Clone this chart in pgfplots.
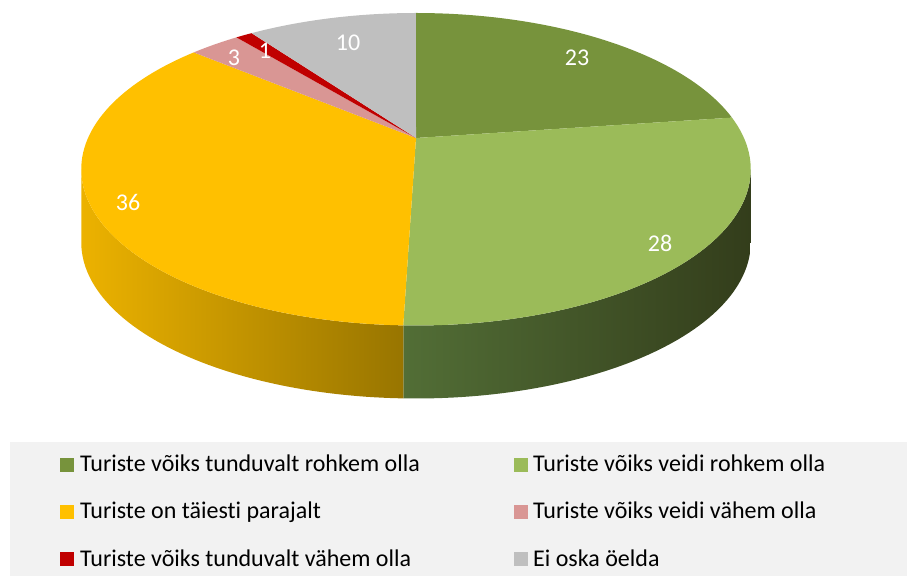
\documentclass[border=0pt]{standalone}
\usepackage{pgfplots}
\pgfplotsset{compat=1.18}
\usepackage{pgfplotstable}
\usepackage{fontspec}
\setmainfont{Carlito}[Ligatures=NoCommon]
\definecolor{cA}{HTML}{77933C}
\definecolor{cB}{HTML}{9BBB59}
\definecolor{cC}{HTML}{FFC000}
\definecolor{cD}{HTML}{D99694}
\definecolor{cE}{HTML}{C00000}
\definecolor{cF}{HTML}{BFBFBF}
\definecolor{legbg}{HTML}{F2F2F2}
\definecolor{gsL}{HTML}{526E36}
\definecolor{gsR}{HTML}{333D1B}
\definecolor{ysL}{HTML}{ECB200}
\definecolor{ysR}{HTML}{987500}
\tikzset{declare function={px(\t)=416+328*cos(\t)/(1+0.2*sin(\t)); py(\t)=438+150*sin(\t)/(1+0.2*sin(\t));}}
\pgfplotstableread{
idx value
0 23
1 28
2 36
3 3
4 1
5 10
}\piedata
\newcommand\labfont{\fontsize{24bp}{28bp}\selectfont}
\begin{document}
\begin{tikzpicture}
\pgfplotstablegetelem{0}{value}\of\piedata \let\vA\pgfplotsretval
\pgfplotstablegetelem{1}{value}\of\piedata \let\vB\pgfplotsretval
\pgfplotstablegetelem{2}{value}\of\piedata \let\vC\pgfplotsretval
\pgfplotstablegetelem{3}{value}\of\piedata \let\vD\pgfplotsretval
\pgfplotstablegetelem{4}{value}\of\piedata \let\vE\pgfplotsretval
\pgfplotstablegetelem{5}{value}\of\piedata \let\vF\pgfplotsretval
\pgfmathsetmacro\total{\vA+\vB+\vC+\vD+\vE+\vF}
\pgfmathsetmacro\aZ{90}
\pgfmathsetmacro\aA{\aZ-\vA/\total*360}
\pgfmathsetmacro\aB{\aA-\vB/\total*360}
\pgfmathsetmacro\aC{\aB-\vC/\total*360}
\pgfmathsetmacro\aD{\aC-\vD/\total*360}
\pgfmathsetmacro\aE{\aD-\vE/\total*360}
\pgfmathsetmacro\aF{\aE-\vF/\total*360}
\pgfmathsetmacro\sR{-asin(0.2)}
\pgfmathsetmacro\sL{-180-\sR}
\begin{axis}[width=907bp, height=576bp, scale only axis, xmin=0, xmax=907, ymin=0, ymax=576, hide axis, clip=false]
\path (axis cs:0,0) rectangle (axis cs:907,576);
% sides
\shade[left color=gsL, right color=gsR] plot[domain=\sR:\aB, samples=60, variable=\t] (axis cs:{px(\t)},{py(\t)}) -- plot[domain=\aB:\sR, samples=60, variable=\t] (axis cs:{px(\t)},{py(\t)-73}) -- cycle;
\shade[left color=ysL, right color=ysR] plot[domain=\aB:\sL, samples=60, variable=\t] (axis cs:{px(\t)},{py(\t)}) -- plot[domain=\sL:\aB, samples=60, variable=\t] (axis cs:{px(\t)},{py(\t)-73}) -- cycle;
% top
\fill[cA] (axis cs:416,438) -- plot[domain=\aZ:\aA, samples=50, variable=\t] (axis cs:{px(\t)},{py(\t)}) -- cycle;
\fill[cB] (axis cs:416,438) -- plot[domain=\aA:\aB, samples=60, variable=\t] (axis cs:{px(\t)},{py(\t)}) -- cycle;
\fill[cC] (axis cs:416,438) -- plot[domain=\aB:\aC, samples=80, variable=\t] (axis cs:{px(\t)},{py(\t)}) -- cycle;
\fill[cD] (axis cs:416,438) -- plot[domain=\aC:\aD, samples=10, variable=\t] (axis cs:{px(\t)},{py(\t)}) -- cycle;
\fill[cE] (axis cs:416,438) -- plot[domain=\aD:\aE, samples=5, variable=\t] (axis cs:{px(\t)},{py(\t)}) -- cycle;
\fill[cF] (axis cs:416,438) -- plot[domain=\aE:\aF, samples=30, variable=\t] (axis cs:{px(\t)},{py(\t)}) -- cycle;
% data labels
\node[white, font=\labfont, inner sep=0pt] at (axis cs:577,518) {\vA};
\node[white, font=\labfont, inner sep=0pt] at (axis cs:660,333) {\vB};
\node[white, font=\labfont, inner sep=0pt] at (axis cs:128,374) {\vC};
\node[white, font=\labfont, inner sep=0pt] at (axis cs:234,518) {\vD};
\node[white, font=\labfont, inner sep=0pt] at (axis cs:265,525) {\vE};
\node[white, font=\labfont, inner sep=0pt] at (axis cs:348,533) {\vF};
% legend
\fill[legbg] (axis cs:10,0) rectangle (axis cs:907,134);
\fill[cA] (axis cs:60,104) rectangle (axis cs:74,118);
\node[anchor=base west, inner sep=0pt, font=\labfont] at (axis cs:80,104) {Turiste võiks tunduvalt rohkem olla};
\fill[cB] (axis cs:514,104) rectangle (axis cs:528,118);
\node[anchor=base west, inner sep=0pt, font=\labfont] at (axis cs:533,104) {Turiste võiks veidi rohkem olla};
\fill[cC] (axis cs:60,57) rectangle (axis cs:74,71);
\node[anchor=base west, inner sep=0pt, font=\labfont] at (axis cs:80,57) {Turiste on täiesti parajalt};
\fill[cD] (axis cs:514,57) rectangle (axis cs:528,71);
\node[anchor=base west, inner sep=0pt, font=\labfont] at (axis cs:533,57) {Turiste võiks veidi vähem olla};
\fill[cE] (axis cs:60,10) rectangle (axis cs:74,24);
\node[anchor=base west, inner sep=0pt, font=\labfont] at (axis cs:80,10) {Turiste võiks tunduvalt vähem olla};
\fill[cF] (axis cs:514,10) rectangle (axis cs:528,24);
\node[anchor=base west, inner sep=0pt, font=\labfont] at (axis cs:533,10) {Ei oska öelda};
\end{axis}
\end{tikzpicture}
\end{document}
